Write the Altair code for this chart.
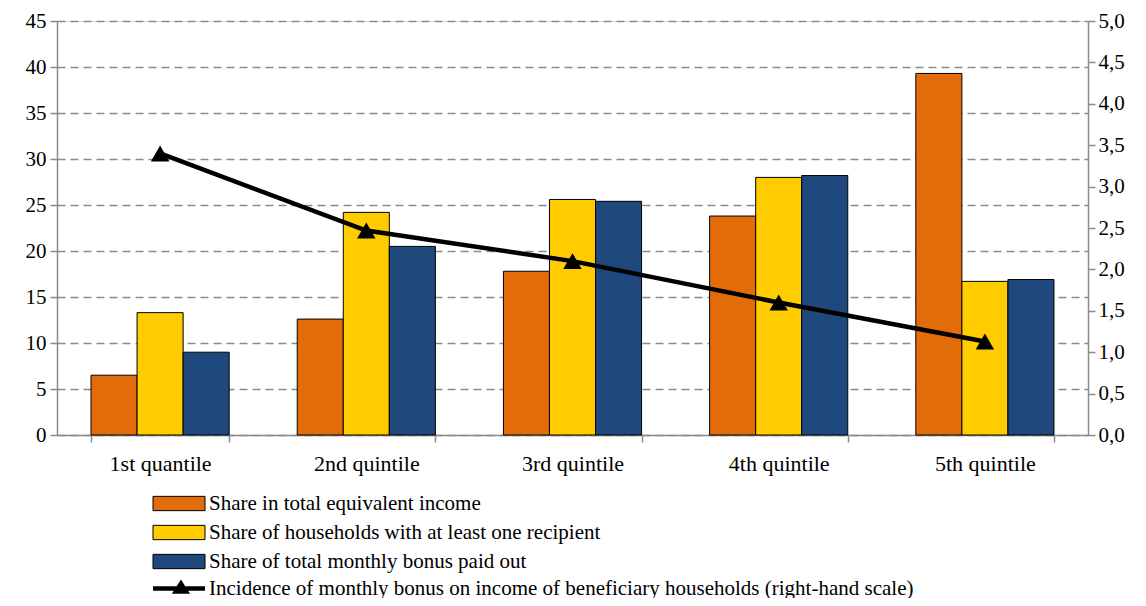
import altair as alt
import pandas as pd

categories = ["1st quantile", "2nd quintile", "3rd quintile", "4th quintile", "5th quintile"]
series = [
    "Share in total equivalent income",
    "Share of households with at least one recipient",
    "Share of total monthly bonus paid out",
]
income_share = [6.5, 12.6, 17.8, 23.8, 39.3]
households_share = [13.3, 24.2, 25.6, 28.0, 16.7]
bonus_share = [9.0, 20.5, 25.4, 28.2, 16.9]
line_label = "Incidence of monthly bonus on income of beneficiary households (right-hand scale)"
incidence = [3.4, 2.47, 2.1, 1.6, 1.13]
colors = ["#E36C0A", "#FFCC00", "#1F497D"]
left_ticks = [0, 5, 10, 15, 20, 25, 30, 35, 40, 45]
right_ticks = [0, 0.5, 1.0, 1.5, 2.0, 2.5, 3.0, 3.5, 4.0, 4.5, 5.0]

rows = []
for s, vals in zip(series, [income_share, households_share, bonus_share]):
    for c, v in zip(categories, vals):
        rows.append({"category": c, "series": s, "value": v})
bars_df = pd.DataFrame(rows)
line_df = pd.DataFrame({"category": categories, "line_series": [line_label] * 5, "incidence": incidence})

FONT = "Liberation Serif"
GREY = "#8a8a8a"

rect_path = "M-4,-1.1L4,-1.1L4,1.1L-4,1.1Z"
line_path = "M-4,-0.35L4,-0.35L4,0.35L-4,0.35Z M0.3,-1.4L1.7,0.8L-1.1,0.8Z"

x_enc = alt.X(
    "category:N",
    sort=categories,
    scale=alt.Scale(paddingInner=0.33, paddingOuter=0.165),
    axis=alt.Axis(
        title=None, labelAngle=0, tickBand="extent", tickSize=7, tickColor=GREY, tickWidth=1.5,
        domainColor=GREY, domainWidth=1.5, labelPadding=11, labelFont=FONT, labelFontSize=22,
        labelColor="black", grid=False,
    ),
)

bars = alt.Chart(bars_df).mark_bar(stroke="black", strokeWidth=1).encode(
    x=x_enc,
    xOffset=alt.XOffset("series:N", sort=series, scale=alt.Scale(paddingInner=0, paddingOuter=0)),
    y=alt.Y(
        "value:Q",
        scale=alt.Scale(domain=[0, 45], nice=False, zero=True),
        axis=alt.Axis(
            title=None, orient="left", values=left_ticks, grid=True, gridDash=[8, 5], gridColor=GREY,
            gridWidth=1.3, tickSize=7, tickColor=GREY, tickWidth=1.5, domainColor=GREY, domainWidth=1.5,
            labelPadding=4, labelFont=FONT, labelFontSize=21, labelColor="black",
        ),
    ),
    fill=alt.Fill(
        "series:N",
        sort=series,
        scale=alt.Scale(domain=series, range=colors),
        legend=alt.Legend(
            orient="none", legendX=111.5, legendY=472, title=None, symbolType=rect_path, symbolSize=169,
            labelOffset=19.5, rowPadding=7, labelFont=FONT, labelFontSize=21, labelColor="black",
            symbolStrokeColor="black", symbolStrokeWidth=1, labelLimit=0, symbolOpacity=1,
        ),
    ),
)

y_right = alt.Y(
    "incidence:Q",
    scale=alt.Scale(domain=[0, 5], nice=False, zero=True),
    axis=alt.Axis(
        title=None, orient="right", values=right_ticks, grid=False, tickSize=7, tickColor=GREY,
        tickWidth=1.5, domainColor=GREY, domainWidth=1.5, labelPadding=3, labelFont=FONT, labelFontSize=21,
        labelColor="black", labelExpr="replace(format(datum.value, '.1f'), '.', ',')",
    ),
)

line = alt.Chart(line_df).mark_line(color="black", strokeWidth=4.5).encode(
    x=alt.X("category:N", sort=categories),
    y=y_right,
)
points = alt.Chart(line_df).mark_point(shape="triangle-up", filled=True, color="black", size=340, opacity=1).encode(
    x=alt.X("category:N", sort=categories),
    y=y_right,
    opacity=alt.Opacity(
        "line_series:N",
        scale=alt.Scale(domain=[line_label], range=[1]),
        legend=alt.Legend(
            orient="none", legendX=111.5, legendY=557, title=None, symbolType=line_path, symbolSize=169,
            labelOffset=19.5, labelFont=FONT, labelFontSize=21, labelColor="black",
            symbolFillColor="black", symbolStrokeColor="black", symbolStrokeWidth=0, labelLimit=0,
        ),
    ),
)

chart = alt.layer(bars, alt.layer(line, points)).resolve_scale(y="independent").properties(
    width=1031,
    height=414,
    autosize=alt.AutoSizeParams(type="none"),
    padding={"left": 49, "top": 13, "right": 50, "bottom": 163},
).configure_view(stroke=None).configure(background="white", font=FONT)

chart.save("out.html", embed_options={"renderer": "svg", "actions": False})
